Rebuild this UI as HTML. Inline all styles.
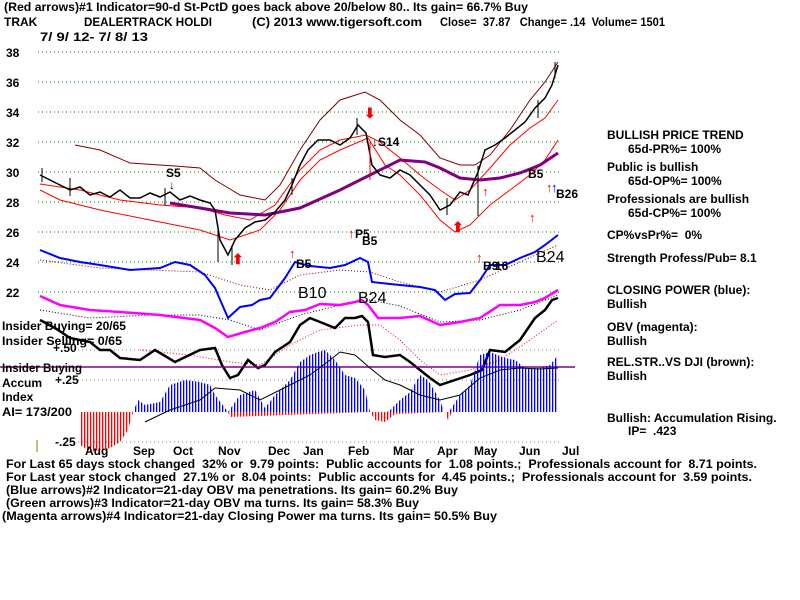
<!DOCTYPE html>
<html><head><meta charset="utf-8"><style>
html,body{margin:0;padding:0;background:#fff;}
svg{display:block;font-family:"Liberation Sans",Arial,sans-serif;font-weight:bold;}
text{white-space:pre;}
</style></head><body>
<svg width="800" height="600" viewBox="0 0 800 600" xml:space="preserve">
<defs>
<pattern id="bl" width="3" height="10" patternUnits="userSpaceOnUse"><rect x="0" y="0" width="1.3" height="10" fill="#0000ff"/></pattern>
<pattern id="rd" width="3" height="10" patternUnits="userSpaceOnUse"><rect x="0" y="0" width="1.3" height="10" fill="#ff0000"/></pattern>
<clipPath id="pos"><rect x="0" y="0" width="800" height="412"/></clipPath>
<clipPath id="neg"><rect x="0" y="412" width="800" height="100"/></clipPath>
</defs>
<g font-size="12" fill="#000">
<text x="4" y="11" textLength="524" lengthAdjust="spacingAndGlyphs">(Red arrows)#1 Indicator=90-d St-PctD goes back above 20/below 80.. Its gain= 66.7% Buy</text>
<text x="4" y="26">TRAK</text>
<text x="84" y="26" textLength="128" lengthAdjust="spacingAndGlyphs">DEALERTRACK HOLDI</text>
<text x="252" y="26" textLength="170" lengthAdjust="spacingAndGlyphs">(C) 2013 www.tigersoft.com</text>
<text x="440" y="26" textLength="225" lengthAdjust="spacingAndGlyphs">Close=  37.87   Change= .14  Volume= 1501</text>
<text x="40" y="41" textLength="108" lengthAdjust="spacingAndGlyphs">7/ 9/ 12- 7/ 8/ 13</text>
<text x="6" y="57">38</text><text x="6" y="87">36</text><text x="6" y="117">34</text>
<text x="6" y="147">32</text><text x="6" y="177">30</text><text x="6" y="207">28</text>
<text x="6" y="237">26</text><text x="6" y="267">24</text><text x="6" y="297">22</text>
</g>
<g stroke="#008000" stroke-dasharray="1,3" stroke-width="1">
<line x1="38" y1="52" x2="560" y2="52"/><line x1="38" y1="82" x2="560" y2="82"/>
<line x1="38" y1="112" x2="560" y2="112"/><line x1="38" y1="142" x2="560" y2="142"/>
<line x1="38" y1="172" x2="560" y2="172"/><line x1="38" y1="202" x2="560" y2="202"/>
<line x1="38" y1="232" x2="560" y2="232"/><line x1="38" y1="262" x2="560" y2="262"/>
<line x1="38" y1="292" x2="560" y2="292"/>
</g>
<g stroke="#808080" stroke-dasharray="1,3"><line x1="78" y1="350" x2="560" y2="350"/><line x1="78" y1="380" x2="560" y2="380"/><line x1="78" y1="442" x2="560" y2="442"/></g>
<polyline fill="none" stroke="#800000" stroke-width="1" points="75,145 100,150 130,163 175,166 200,168 215,180 240,195 265,200 280,185 300,150 320,120 340,100 365,92 380,100 400,120 420,135 440,158 460,165 475,165 490,155 510,130 530,100 545,82 558,62"/>
<polyline fill="none" stroke="#ff0000" stroke-width="1" points="40,190 60,200 100,210 150,220 200,230 230,240 260,230 280,210 300,180 320,160 340,150 368,138 385,165 400,175 420,195 440,220 455,232 470,225 490,205 510,190 530,175 545,160 558,140"/>
<polyline fill="none" stroke="#ff0000" stroke-width="1" points="40,184 80,190 120,200 160,205 200,208 225,215 250,220 275,205 300,170 320,150 340,140 366,135 380,142 400,158 420,175 440,190 455,200 470,190 490,168 510,145 530,128 545,118 558,100"/>
<polyline fill="none" stroke="#800080" stroke-width="3" points="170,203 200,208 230,213 265,215 300,208 340,190 370,175 400,160 425,162 440,168 460,178 480,180 500,178 520,173 540,165 558,153"/>
<polyline fill="none" stroke="#000" stroke-width="1.5" points="40,175 50,180 60,185 70,190 80,187 90,195 100,192 110,197 120,190 130,198 140,198 150,193 160,197 170,192 180,200 190,196 200,200 210,203 215,210 220,240 228,255 235,240 245,228 255,222 265,220 275,212 285,200 292,185 300,165 308,150 318,140 330,140 340,145 350,138 358,125 366,133 372,165 380,175 390,178 400,170 410,175 420,185 430,195 440,210 450,205 460,192 468,195 478,172 485,150 495,145 505,138 515,130 525,122 535,108 545,98 552,85 558,65"/>
<g stroke="#000" stroke-width="1">
<line x1="42" y1="168" x2="42" y2="182"/><line x1="70" y1="178" x2="70" y2="196"/><line x1="165" y1="188" x2="165" y2="205"/><line x1="218" y1="225" x2="218" y2="262"/><line x1="232" y1="245" x2="232" y2="265"/><line x1="292" y1="178" x2="292" y2="195"/><line x1="357" y1="118" x2="357" y2="135"/><line x1="447" y1="198" x2="447" y2="215"/><line x1="478" y1="166" x2="478" y2="216"/><line x1="538" y1="100" x2="538" y2="118"/><line x1="555" y1="62" x2="555" y2="78"/>
</g>
<line x1="370" y1="142" x2="370" y2="180" stroke="#ff0000"/>
<polyline fill="none" stroke="#800000" stroke-width="1" stroke-dasharray="1,2" points="40,260 100,268 150,270 200,272 240,285 270,290 300,275 340,270 370,272 400,282 440,292 480,280 520,262 558,245"/>
<polyline fill="none" stroke="#0000ff" stroke-width="2" points="40,250 60,258 80,262 100,265 130,270 160,268 175,262 190,265 205,275 215,288 228,318 240,307 252,305 260,300 270,298 285,278 295,262 310,266 330,268 345,265 360,258 368,262 372,282 390,284 420,287 435,290 445,300 455,294 470,293 480,280 490,265 505,265 520,258 535,252 545,245 558,235"/>
<polyline fill="none" stroke="#000" stroke-width="1" stroke-dasharray="1,2" points="40,310 90,318 150,315 200,315 230,320 260,330 300,315 340,305 370,300 400,306 440,322 480,320 520,310 558,295"/>
<polyline fill="none" stroke="#ff00ff" stroke-width="2.5" points="40,296 60,305 90,310 120,312 160,315 200,320 215,328 228,337 245,332 260,328 275,322 290,312 305,310 320,304 340,305 355,302 362,300 368,305 378,318 400,318 420,316 440,325 460,322 480,318 500,305 520,305 535,302 545,298 558,290"/>
<polyline fill="none" stroke="#ff0000" stroke-width="1" stroke-dasharray="1,2" points="140,350 190,355 230,362 260,365 290,345 320,330 360,325 380,325 400,340 420,360 440,375 470,370 500,360 530,340 558,320"/>
<polyline fill="none" stroke="#000" stroke-width="2.5" points="40,320 55,328 70,338 90,342 100,350 110,350 120,358 140,360 155,350 175,362 200,350 215,348 222,365 230,378 238,375 248,360 258,368 265,365 275,352 290,342 300,325 310,318 320,322 335,328 345,318 355,318 362,316 368,322 373,355 385,357 400,355 410,362 420,370 430,378 440,385 455,380 470,375 482,370 490,350 505,352 520,340 535,318 545,310 552,300 558,298"/>
<line x1="0" y1="367" x2="575" y2="367" stroke="#800080" stroke-width="1.5"/>
<polygon fill="url(#bl)" clip-path="url(#pos)" points="80,412 80,445 95,450 110,448 125,440 133,412 138,400 145,405 160,402 170,385 185,380 200,382 210,385 215,395 228,412 240,395 255,390 265,408 275,395 290,380 300,362 310,355 318,352 325,350 335,360 345,375 355,378 365,390 370,412 375,420 390,410 400,400 410,392 420,375 428,380 440,400 445,415 450,410 460,395 470,385 480,355 490,352 505,358 515,360 525,368 540,368 550,365 558,355 558,412"/>
<polygon fill="url(#rd)" clip-path="url(#neg)" points="80,412 80,445 90,452 100,450 110,448 120,442 128,430 133,412 228,412 230,417 370,412 375,420 385,422 395,414 445,412 448,420 452,412"/>
<polyline fill="none" stroke="#000" stroke-width="1" points="145,422 170,410 200,400 215,388 240,390 260,400 280,390 310,375 330,360 340,352 355,355 370,368 385,380 400,385 420,395 440,400 460,395 480,378 500,370 520,368 540,369 558,368"/>
<line x1="37" y1="440" x2="37" y2="452" stroke="#808000"/>
<g font-size="12" fill="#000">
<text x="166" y="177">S5</text><text x="169" y="189" font-weight="normal">↓</text>
<text x="372" y="146">↓S14</text>
<text x="296" y="268">B5</text><text x="355" y="238">P5</text><text x="362" y="245">B5</text>
<text x="528" y="178">B5</text><text x="556" y="198">B26</text>
<text x="483" y="270">B9</text><text x="495" y="270">16</text>
</g>
<g font-size="16" font-weight="normal" fill="#000">
<text x="298" y="298">B10</text><text x="358" y="303">B24</text><text x="536" y="262">B24</text>
</g>
<g fill="#ff0000" font-size="14" font-weight="bold">
<text x="364" y="118">⬇</text><text x="232" y="264">⬆</text><text x="452" y="232">⬆</text>
</g>
<g fill="#ff0000" font-size="13" font-weight="normal">
<text x="289" y="258">↑</text><text x="348" y="238">↑</text><text x="482" y="196">↑</text><text x="529" y="222">↑</text><text x="476" y="262">↑</text><text x="546" y="192">↑</text>
</g>
<g fill="#0000ff" font-size="13" font-weight="normal"><text x="551" y="192">↑</text></g>
<g font-size="12" fill="#000">
<text x="2" y="330" textLength="124" lengthAdjust="spacingAndGlyphs">Insider Buying= 20/65</text>
<text x="2" y="345" textLength="120" lengthAdjust="spacingAndGlyphs">Insider Selling= 0/65</text>
<text x="53" y="352">+.50</text>
<text x="2" y="372" textLength="80" lengthAdjust="spacingAndGlyphs">Insider Buying</text>
<text x="2" y="387">Accum</text><text x="55" y="384">+.25</text>
<text x="2" y="401">Index</text>
<text x="2" y="416" textLength="70" lengthAdjust="spacingAndGlyphs">AI= 173/200</text>
<text x="55" y="446">-.25</text>
<text x="85" y="455">Aug</text><text x="133" y="455">Sep</text><text x="173" y="455">Oct</text><text x="218" y="455">Nov</text><text x="268" y="455">Dec</text><text x="303" y="455">Jan</text><text x="348" y="455">Feb</text><text x="393" y="455">Mar</text><text x="437" y="455">Apr</text><text x="474" y="455">May</text><text x="519" y="455">Jun</text><text x="562" y="455">Jul</text>
<text x="6" y="468" textLength="751" lengthAdjust="spacingAndGlyphs">For Last 65 days stock changed  32% or  9.79 points:  Public accounts for  1.08 points.;  Professionals account for  8.71 points.</text>
<text x="6" y="481" textLength="746" lengthAdjust="spacingAndGlyphs">For Last year stock changed  27.1% or  8.04 points:  Public accounts for  4.45 points.;  Professionals account for  3.59 points.</text>
<text x="6" y="494" textLength="452" lengthAdjust="spacingAndGlyphs">(Blue arrows)#2 Indicator=21-day OBV ma penetrations. Its gain= 60.2% Buy</text>
<text x="6" y="507" textLength="413" lengthAdjust="spacingAndGlyphs">(Green arrows)#3 Indicator=21-day OBV ma turns. Its gain= 58.3% Buy</text>
<text x="2" y="520" textLength="495" lengthAdjust="spacingAndGlyphs">(Magenta arrows)#4 Indicator=21-day Closing Power ma turns. Its gain= 50.5% Buy</text>
<text x="607" y="139">BULLISH PRICE TREND</text>
<text x="628" y="153">65d-PR%= 100%</text>
<text x="607" y="171">Public is bullish</text>
<text x="628" y="185">65d-OP%= 100%</text>
<text x="607" y="203">Professionals are bullish</text>
<text x="628" y="217">65d-CP%= 100%</text>
<text x="607" y="239">CP%vsPr%=  0%</text>
<text x="607" y="262">Strength Profess/Pub= 8.1</text>
<text x="607" y="294">CLOSING POWER (blue):</text>
<text x="607" y="308">Bullish</text>
<text x="607" y="331">OBV (magenta):</text>
<text x="607" y="345">Bullish</text>
<text x="607" y="366">REL.STR..VS DJI (brown):</text>
<text x="607" y="380">Bullish</text>
<text x="607" y="422">Bullish: Accumulation Rising.</text>
<text x="628" y="435">IP=  .423</text>
</g>
</svg>
</body></html>
